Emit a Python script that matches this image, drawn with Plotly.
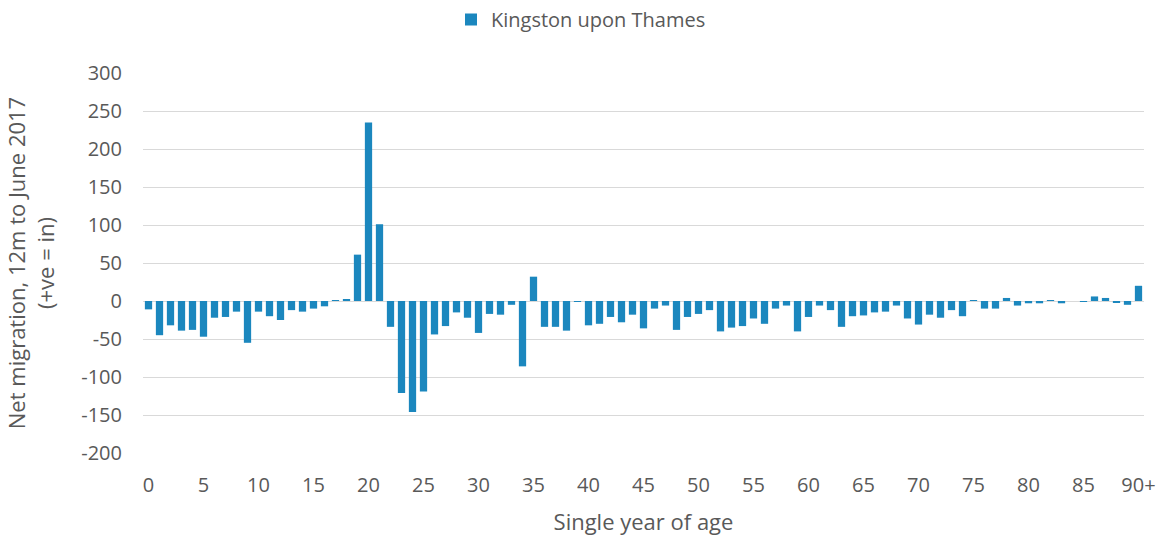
import plotly.graph_objects as go

ages = [str(i) for i in range(90)] + ["90+"]
net_migration = [
    -11, -45, -32, -39, -38, -47, -22, -21, -14, -55,
    -14, -20, -25, -12, -14, -10, -7, 1, 2, 61,
    235, 101, -34, -121, -146, -119, -44, -33, -15, -22,
    -42, -17, -18, -5, -86, 32, -34, -34, -39, -1,
    -32, -30, -21, -28, -18, -36, -10, -6, -38, -21,
    -17, -12, -40, -35, -33, -23, -30, -10, -6, -40,
    -21, -6, -12, -34, -20, -19, -15, -14, -6, -23,
    -31, -18, -22, -12, -20, 1, -10, -10, 4, -6,
    -3, -3, 1, -3, 0, -1, 6, 4, -2, -5,
    20,
]
tick_labels = [str(i) for i in range(0, 90, 5)] + ["90+"]
y_ticks = [300, 250, 200, 150, 100, 50, 0, -50, -100, -150, -200]
y_tick_text = [str(v) for v in y_ticks]  # plain hyphen minus, as in the original

series_name = "Kingston upon Thames"
bar_color = "#1B87BE"
text_color = "#595959"
grid_color = "#D9D9D9"
font_family = "'Open Sans', sans-serif"

fig = go.Figure()
fig.add_trace(go.Bar(
    x=ages, y=net_migration, name=series_name,
    marker=dict(color=bar_color, line=dict(width=0)),
))

fig.update_layout(
    width=1162, height=536,
    margin=dict(l=143, r=18, t=73, b=83),
    paper_bgcolor="white", plot_bgcolor="white",
    font=dict(family=font_family, size=20, color=text_color),
    bargap=0.34,
    showlegend=True,
    legend=dict(orientation="h", x=0.5, xref="container", xanchor="center",
                y=1.0, yref="container", yanchor="top",
                font=dict(size=20, color=text_color), itemwidth=30),
    xaxis=dict(
        type="category", automargin=False,
        tickmode="array", tickvals=tick_labels, ticktext=tick_labels,
        showgrid=False, showline=False, zeroline=False, ticks="",
        tickfont=dict(size=20, color=text_color),
        title=dict(text="Single year of age", font=dict(size=22, color=text_color), standoff=17),
        ticklabelstandoff=18,
    ),
    yaxis=dict(
        range=[-200, 300], tickvals=y_ticks, ticktext=y_tick_text, automargin=True,
        showgrid=True, gridcolor=grid_color, gridwidth=1.3,
        zeroline=True, zerolinecolor=grid_color, zerolinewidth=1.3,
        showline=False, ticks="",
        tickfont=dict(size=20, color=text_color),
        ticklabelstandoff=20,
        title=dict(text="Net migration, 12m to June 2017<br>(+ve = in)",
                   font=dict(size=22, color=text_color), standoff=20),
    ),
)

fig.write_html("out.html", config={"displayModeBar": False},
               post_script="document.body.style.margin='0';")
